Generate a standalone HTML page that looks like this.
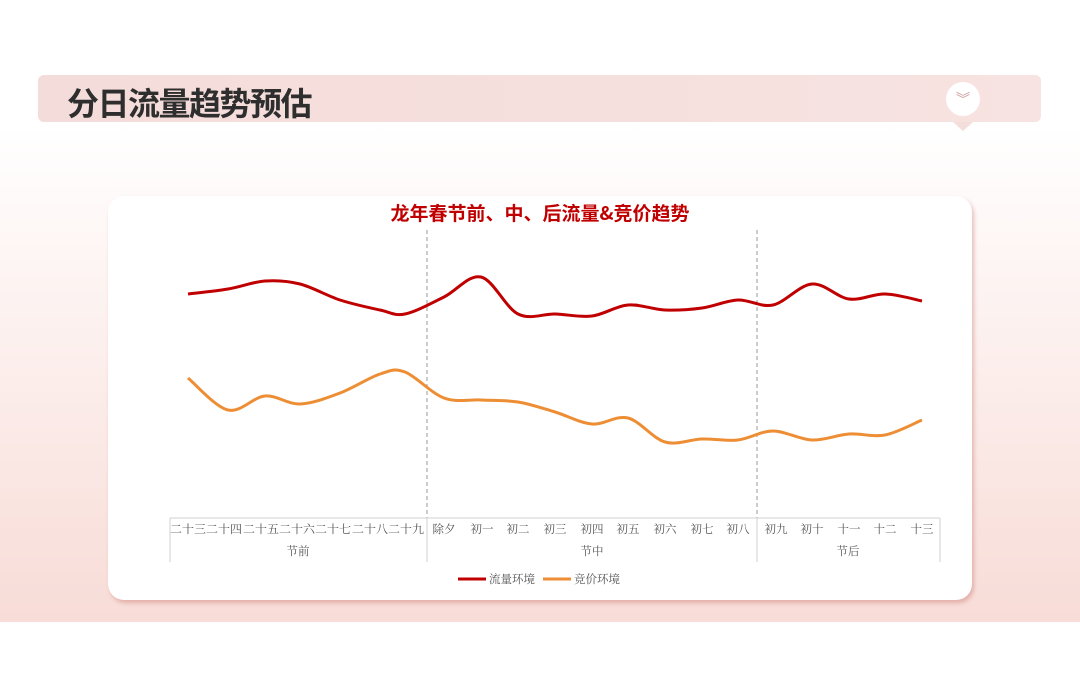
<!DOCTYPE html>
<html><head><meta charset="utf-8"><style>
body{margin:0;width:1080px;height:693px;background:#fff;font-family:"Liberation Sans","Noto Sans CJK SC",sans-serif;overflow:hidden}
#slide{position:absolute;left:0;top:0;width:1080px;height:622px;background:linear-gradient(#fff 0%,#fff 20%,#f8dcd7 100%)}
#bar{position:absolute;left:38px;top:75px;width:1003px;height:47px;border-radius:6px;background:linear-gradient(90deg,#f4dcda,#f7e3e1)}
#bar h1{margin:0;position:absolute;left:29px;top:4px;font-size:32px;font-weight:bold;color:#2e2e2e;font-family:"Noto Sans CJK SC",sans-serif;letter-spacing:-1.5px}
#badge{position:absolute;left:946px;top:82px;width:34px;height:34px;border-radius:50%;background:#fff;color:#c99;text-align:center;font-size:14px;line-height:34px}
#tip{position:absolute;left:953px;top:122px;width:0;height:0;border-left:10px solid transparent;border-right:10px solid transparent;border-top:9px solid #f3dedc}
#card{position:absolute;left:108px;top:196px;width:864px;height:404px;background:#fff;border-radius:16px;box-shadow:2px 3px 4px rgba(200,120,110,.45)}
</style></head><body>
<div id="slide">
<div id="bar"><h1>分日流量趋势预估</h1></div>
<div id="tip"></div>
<div id="badge">︾</div>
<div id="card"></div>
<svg width="1080" height="693" style="position:absolute;left:0;top:0" font-family="Liberation Sans,Noto Sans CJK SC,sans-serif">
<text x="540" y="220" text-anchor="middle" font-size="19" font-weight="bold" fill="#c00000" font-family="Noto Sans CJK SC,sans-serif">龙年春节前、中、后流量&amp;竞价趋势</text>
<g stroke="#999" stroke-dasharray="4,3" stroke-width="1"><line x1="427" y1="230" x2="427" y2="518"/><line x1="757" y1="230" x2="757" y2="518"/></g>
<g stroke="#d0d0d0" stroke-width="1"><line x1="170" y1="518" x2="940" y2="518"/><line x1="170" y1="518" x2="170" y2="562"/><line x1="427" y1="518" x2="427" y2="562"/><line x1="757" y1="518" x2="757" y2="562"/><line x1="940" y1="518" x2="940" y2="562"/></g>
<path id="r" fill="none" stroke="#c00000" stroke-width="3"/>
<path id="o" fill="none" stroke="#ed8e35" stroke-width="3"/>
<g id="lab" font-size="11.5" fill="#555" text-anchor="middle" font-family="Noto Serif CJK SC,serif"></g>
<g font-size="11.5" fill="#555" text-anchor="middle" font-family="Noto Serif CJK SC,serif"><text x="298" y="555">节前</text><text x="592" y="555">节中</text><text x="848" y="555">节后</text></g>
<line x1="458" y1="579" x2="486" y2="579" stroke="#c00000" stroke-width="3"/>
<text x="489" y="583" font-size="11.5" fill="#555" font-family="Noto Serif CJK SC,serif">流量环境</text>
<line x1="543" y1="579" x2="571" y2="579" stroke="#ed8e35" stroke-width="3"/>
<text x="574" y="583" font-size="11.5" fill="#555" font-family="Noto Serif CJK SC,serif">竞价环境</text>
</svg>
</div>
<script>
var xs=[188,228,265,300,340,380,405,444,481,518,555,592,628,665,702,738,773,812,849,885,922];
var ry=[294,289,281,284,300,310,314,297,277,314,314,316,305,310,308,300,305,284,299,294,301];
var oy=[378,410,396,404,393,374,372,398,400,402,412,424,418,442,439,440,431,440,434,435,420];
var lx=[188,224,261,297,333,370,406,444,482,518,555,592,628,665,702,738,776,812,849,885,922];
var names=["二十三","二十四","二十五","二十六","二十七","二十八","二十九","除夕","初一","初二","初三","初四","初五","初六","初七","初八","初九","初十","十一","十二","十三"];
function path(y){var d="M"+xs[0]+","+y[0];for(var i=0;i<xs.length-1;i++){var p0=i?i-1:i,p3=i+2<xs.length?i+2:i+1;
var c1x=xs[i]+(xs[i+1]-xs[p0])/6,c1y=y[i]+(y[i+1]-y[p0])/6,c2x=xs[i+1]-(xs[p3]-xs[i])/6,c2y=y[i+1]-(y[p3]-y[i])/6;
d+=" C"+c1x+","+c1y+" "+c2x+","+c2y+" "+xs[i+1]+","+y[i+1];}return d;}
document.getElementById("r").setAttribute("d",path(ry));
document.getElementById("o").setAttribute("d",path(oy));
var g=document.getElementById("lab"),h="";
for(var i=0;i<names.length;i++){h+='<text x="'+lx[i]+'" y="533"'+(i<7?' textLength="36" lengthAdjust="spacingAndGlyphs"':'')+'>'+names[i]+'</text>';}
g.innerHTML=h;
</script>
</body></html>
